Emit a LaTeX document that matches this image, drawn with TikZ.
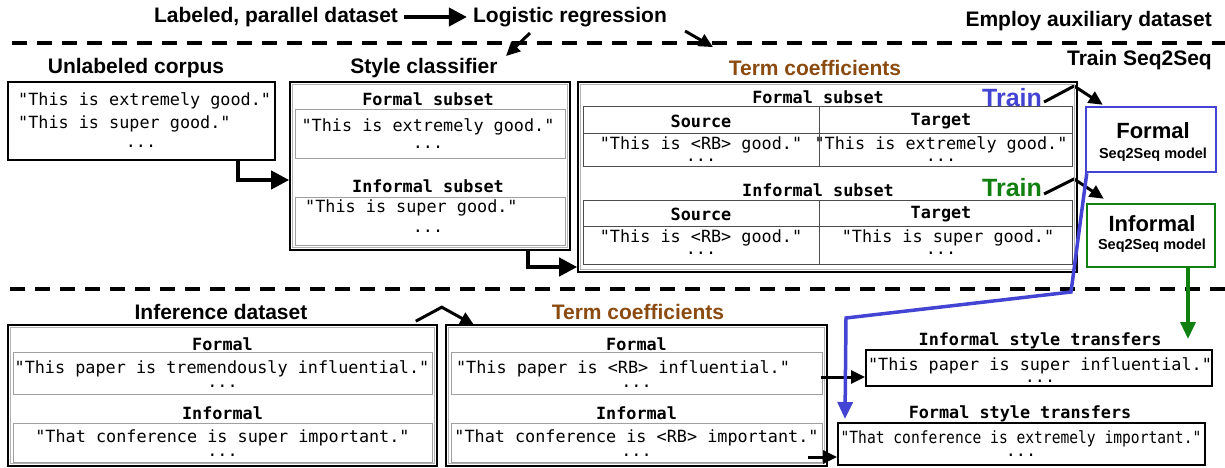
\documentclass[tikz,border=0pt]{standalone}
\usepackage{fontspec}
\usepackage{graphicx}
\setmainfont{Liberation Sans}
\newfontfamily\codefont{DejaVu Sans Mono}
\usetikzlibrary{arrows.meta}

\definecolor{termbrown}{RGB}{139,74,16}
\definecolor{trainblue}{RGB}{68,68,212}
\definecolor{traingreen}{RGB}{16,128,16}

\newcommand{\hdsize}{\fontsize{21}{24}\selectfont\bfseries}
\newcommand{\cdsize}{\fontsize{16.8}{17}\selectfont\codefont}

\tikzset{
	heading/.style={font=\hdsize, inner sep=0pt},
	code/.style={font=\cdsize, inner sep=0pt},
	codeb/.style={font=\cdsize\bfseries, inner sep=0pt},
	outerbox/.style={draw, line width=1.6pt, inner sep=0pt},
	innerline/.style={draw=gray!60, line width=0.8pt},
	cellbox/.style={draw=gray!75, line width=1pt, inner sep=0pt},
	tableline/.style={draw=black!70, line width=1pt},
	modelbox/.style={draw, line width=2.5pt, inner sep=0pt, fill=white},
	transbox/.style={draw, line width=2pt, inner sep=0pt},
	bigarrow/.style={line width=4pt, -{Triangle[length=18pt,width=18pt]}},
	midarrow/.style={line width=3pt, -{Triangle[length=14pt,width=13pt]}},
	divider/.style={line width=4pt, dash pattern=on 15pt off 10pt},
}

\begin{document}
\begin{tikzpicture}[x=1pt,y=-1pt]
	\useasboundingbox (0,0) rectangle (1225,468);

	%top row
	\node[heading] (lab) at (276,17) {Labeled, parallel dataset};
	\node[heading] (logreg) at (570,17) {Logistic regression};
	\node[heading, anchor=east] (employ) at (1212,21) {Employ auxiliary dataset};
	\node[heading, anchor=east] (trainss) at (1212,60) {Train Seq2Seq};
	\draw[bigarrow] ([xshift=6pt]lab.east) -- ([xshift=-6pt]logreg.west);

	%section dividers
	\draw[divider] (12,43) -- (1225,43);
	\draw[divider] (10,289) -- (1225,289);

	%headings
	\node[heading] (hunl) at (136,68) {Unlabeled corpus};
	\node[heading] (hsc) at (424,68) {Style classifier};
	\node[heading, text=termbrown] (hterm) at (815,68) {Term coefficients};
	\node[heading] (hinf) at (221,312) {Inference dataset};
	\node[heading, text=termbrown] (hterm2) at (638,312) {Term coefficients};

	\draw[midarrow] ([xshift=-40pt,yshift=-6pt]logreg.south) -- ([xshift=82pt,yshift=2pt]hsc.north);
	\draw[midarrow] ([xshift=18pt,yshift=-4pt]logreg.south east) -- ([xshift=-102pt,yshift=13pt]hterm.north);

	%unlabeled corpus
	\node[outerbox, line width=2pt, minimum width=267pt, minimum height=78pt] (ubox) at (141.5,121) {};
	\node[code, anchor=west] (u1) at (18,101) {"This is extremely good."};
	\node[code, anchor=west] (u2) at (18,124) {"This is super good."};
	\node[code] (u3) at (141,146) {...};

	%style classifier
	\node[outerbox, minimum width=280pt, minimum height=168pt] (scbox) at (430,166) {};
	\node[codeb] (scf) at (428,99) {Formal subset};
	\node[cellbox, minimum width=270pt, minimum height=48pt] (sc1) at (430,134) {};
	\node[code] (sc1a) at (428,127) {"This is extremely good."};
	\node[code] (sc1b) at (428,147) {...};
	\node[codeb] (sci) at (428,186) {Informal subset};
	\node[cellbox, minimum width=270pt, minimum height=48pt] (sc2) at (430,221) {};
	\node[code, anchor=west] (sc2a) at (305,208) {"This is super good."};
	\node[code] (sc2b) at (428,231) {...};

	%term coefficients, two parallel tables
	\node[outerbox, minimum width=499pt, minimum height=190pt] (tcbox) at (827.5,177) {};
	\foreach \t/\b/\kind/\tgt/\tx in {107/166/Formal/"This is extremely good."/941, 200/264/Informal/"This is super good."/948} {
		\node[codeb] (sub\kind) at (818,\t-10) {\kind\ subset};
		\draw[tableline] (583,\t) rectangle (1072,\b);
		\draw[tableline] (583,\t+26) -- (1072,\t+26);
		\draw[tableline] (819,\t) -- (819,\b);
		\node[codeb] (src\kind) at (701,\t+14) {Source};
		\node[codeb] (tgt\kind) at (941,\t+14) {Target};
		\node[code] (srca\kind) at (701,\t+38) {"This is <RB> good."};
		\node[code] (srcb\kind) at (701,\t+53) {...};
		\node[code] (tgta\kind) at (\tx,\t+38) {\tgt};
		\node[code] (tgtb\kind) at (941,\t+53) {...};
	}

	\draw[bigarrow] ([xshift=96.5pt]ubox.south) |- ([yshift=-14pt]scbox.west);
	\draw[bigarrow] ([xshift=98pt]scbox.south) |- ([yshift=-90pt]tcbox.west);

	%seq2seq models
	\node[modelbox, draw=trainblue, minimum width=130pt, minimum height=65pt] (fmodel) at (1151,139.5) {};
	\node[inner sep=0pt, font=\fontsize{22}{24}\selectfont\bfseries] (fmodela) at (1153,131) {Formal};
	\node[inner sep=0pt, font=\fontsize{14.5}{16}\selectfont\bfseries] (fmodelb) at (1153,155) {Seq2Seq model};
	\node[modelbox, draw=traingreen, minimum width=128pt, minimum height=63pt] (imodel) at (1151,235.5) {};
	\node[inner sep=0pt, font=\fontsize{22}{24}\selectfont\bfseries] (imodela) at (1152,224) {Informal};
	\node[inner sep=0pt, font=\fontsize{14.5}{16}\selectfont\bfseries] (imodelb) at (1152,246) {Seq2Seq model};

	\node[inner sep=0pt, font=\fontsize{25}{28}\selectfont\bfseries, text=trainblue] (trainf) at (1012,98) {Train};
	\node[inner sep=0pt, font=\fontsize{25}{28}\selectfont\bfseries, text=traingreen] (traini) at (1012,188) {Train};
	\draw[midarrow] ([xshift=2pt,yshift=-4pt]trainf.east) -- ++(30,-16) -- ([xshift=18pt,yshift=1pt]fmodel.north west);
	\draw[midarrow] ([xshift=2pt,yshift=-6pt]traini.east) -- ++(30,-15) -- ([xshift=18pt,yshift=4pt]imodel.north west);

	%inference dataset and its term coefficients
	\node[outerbox, minimum width=429pt, minimum height=141pt] (infbox) at (222.5,395.5) {};
	\node[outerbox, minimum width=381pt, minimum height=141pt] (tc2box) at (636.5,395.5) {};
	\foreach \cx/\w/\tag/\fa/\fax/\fb in {222.5/419/inf/"This paper is tremendously influential."/222/"That conference is super important.", 636.5/371/tc/"This paper is <RB> influential."/623/"That conference is <RB> important."} {
		\node[codeb] (\tag fh) at (\cx,344) {Formal};
		\node[cellbox, minimum width=\w pt, minimum height=42pt] (\tag fc) at (\cx,373) {};
		\node[code] (\tag fa) at (\fax,369) {\fa};
		\node[code] (\tag fb) at (\cx,386) {...};
		\node[codeb] (\tag ih) at (\cx,413) {Informal};
		\node[cellbox, minimum width=\w pt, minimum height=39pt] (\tag ic) at (\cx,442.5) {};
		\node[code] (\tag ia) at (\cx,438) {\fb};
		\node[code] (\tag ib) at (\cx,455) {...};
	}

	%double frame on the grouped boxes
	\foreach \b in {scbox,tcbox,infbox,tc2box} {
		\draw[innerline] ([shift={(3,3)}]\b.north west) rectangle ([shift={(-3,-3)}]\b.south east);
	}

	\draw[midarrow] ([xshift=-22pt,yshift=3pt]infbox.north east) -- ++(26,-14) -- ([xshift=29pt,yshift=-1pt]tc2box.north west);

	%style transfers
	\node[codeb] (hit) at (1040,341) {Informal style transfers};
	\node[transbox, minimum width=346pt, minimum height=36pt] (itbox) at (1039,368) {};
	\node[code] (ita) at (1040,366) {"This paper is super influential."};
	\node[code] (itb) at (1040,381) {...};
	\node[codeb] (hft) at (1020,414) {Formal style transfers};
	\node[transbox, minimum width=367pt, minimum height=42pt] (ftbox) at (1021.5,444) {};
	\node[code] (fta) at (1021,439) {\scalebox{0.87}[1]{"That conference is extremely important."}};
	\node[code] (ftb) at (1021,455) {...};

	\draw[midarrow] ([xshift=-7pt,yshift=18.5pt]tc2box.east) -- ([yshift=-9pt]itbox.west);
	\draw[midarrow] ([xshift=-20pt,yshift=-61.5pt]tc2box.east) -- ([yshift=-13pt]ftbox.west);

	%model outputs
	\draw[trainblue, line width=3.5pt, -{Triangle[length=17pt,width=15pt]}] ([xshift=2pt]fmodel.south west) -- (1071,292) -- (846,318) -- ([xshift=8pt,yshift=3pt]ftbox.north west);
	\draw[traingreen, line width=3.5pt, -{Triangle[length=17pt,width=15pt]}] ([xshift=37pt]imodel.south) -- ([xshift=149pt,yshift=10pt]itbox.north);
\end{tikzpicture}
\end{document}
